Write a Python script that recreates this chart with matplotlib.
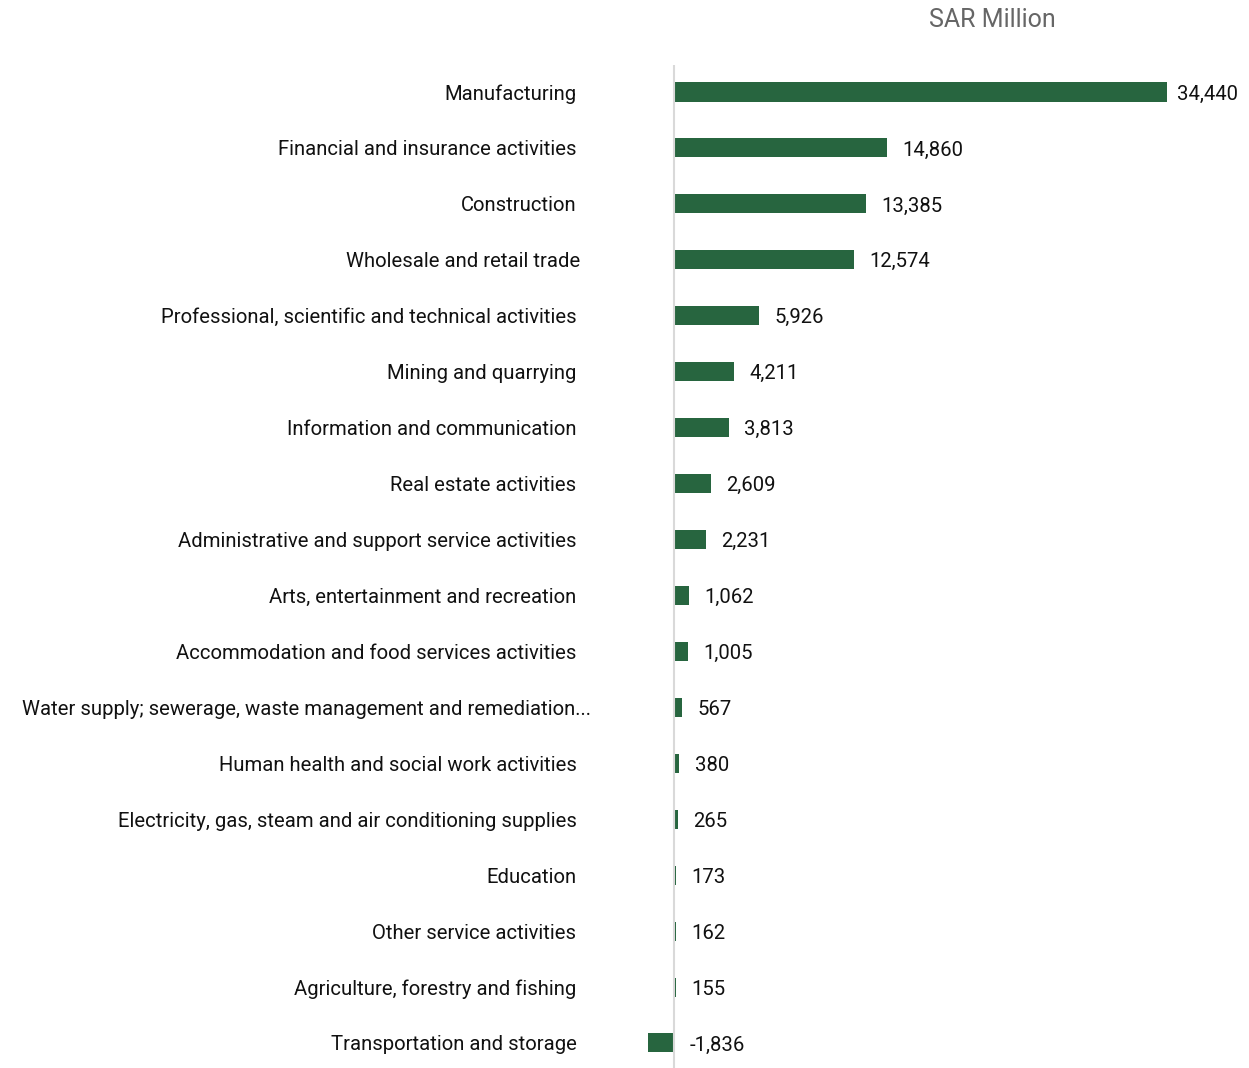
import matplotlib.pyplot as plt
from matplotlib.transforms import ScaledTranslation

sectors = [
    "Manufacturing",
    "Financial and insurance activities",
    "Construction",
    "Wholesale and retail trade",
    "Professional, scientific and technical activities",
    "Mining and quarrying",
    "Information and communication",
    "Real estate activities",
    "Administrative and support service activities",
    "Arts, entertainment and recreation",
    "Accommodation and food services activities",
    "Water supply; sewerage, waste management and remediation...",
    "Human health and social work activities",
    "Electricity, gas, steam and air conditioning supplies",
    "Education",
    "Other service activities",
    "Agriculture, forestry and fishing",
    "Transportation and storage",
]
values = [34440, 14860, 13385, 12574, 5926, 4211, 3813, 2609, 2231,
          1062, 1005, 567, 380, 265, 173, 162, 155, -1836]

bar_color = "#27653F"
plt.rcParams["font.family"] = ["Roboto", "DejaVu Sans"]

W, H = 1249, 1068
fig = plt.figure(figsize=(W / 100, H / 100), dpi=100)
# axes placed in pixel terms: zero line at x=674, rows start at y=92
ax = fig.add_axes([600 / W, 0, (W - 600) / W, (1068 - 65) / H])

px_per_unit = 493 / 34440
ax.set_xlim((600 - 674) / px_per_unit, (W - 674) / px_per_unit)
row = 55.94
ax.set_ylim((1068 - 92) / row, -(92 - 65) / row)

ypos = list(range(len(sectors)))
ax.barh(ypos, values, height=0.34, color=bar_color)
ax.axvline(0, color="#d9d9d9", linewidth=1.5)

for y, v in zip(ypos, values):
    dx = 7 if v > 30000 else 11
    ax.annotate(f"{v:,}", xy=(max(v, 0), y), xytext=(dx, -1.5),
                textcoords="offset points", va="center", ha="left",
                fontsize=14.6, color="#111111")

ax.set_yticks(ypos)
ax.set_yticklabels(sectors, fontsize=14.6, color="#111111")
ax.tick_params(axis="y", length=0, pad=17)
ax.set_xticks([])
for s in ax.spines.values():
    s.set_visible(False)

# the long truncated label sits a little further right than the rest
for lbl, dx in zip(ax.get_yticklabels(), [0, 0, 0, 4, 0, 0, 0, 0, 0, 0, 0, 15, 0, 0, 0, 0, 0, 0]):
    if dx:
        lbl.set_transform(lbl.get_transform() + ScaledTranslation(dx / 100, 0, fig.dpi_scale_trans))

fig.text(992 / W, 1 - 20 / H, "SAR Million", ha="center", va="center",
         fontsize=18, color="#666666")

fig.savefig("out.png", dpi=100)
